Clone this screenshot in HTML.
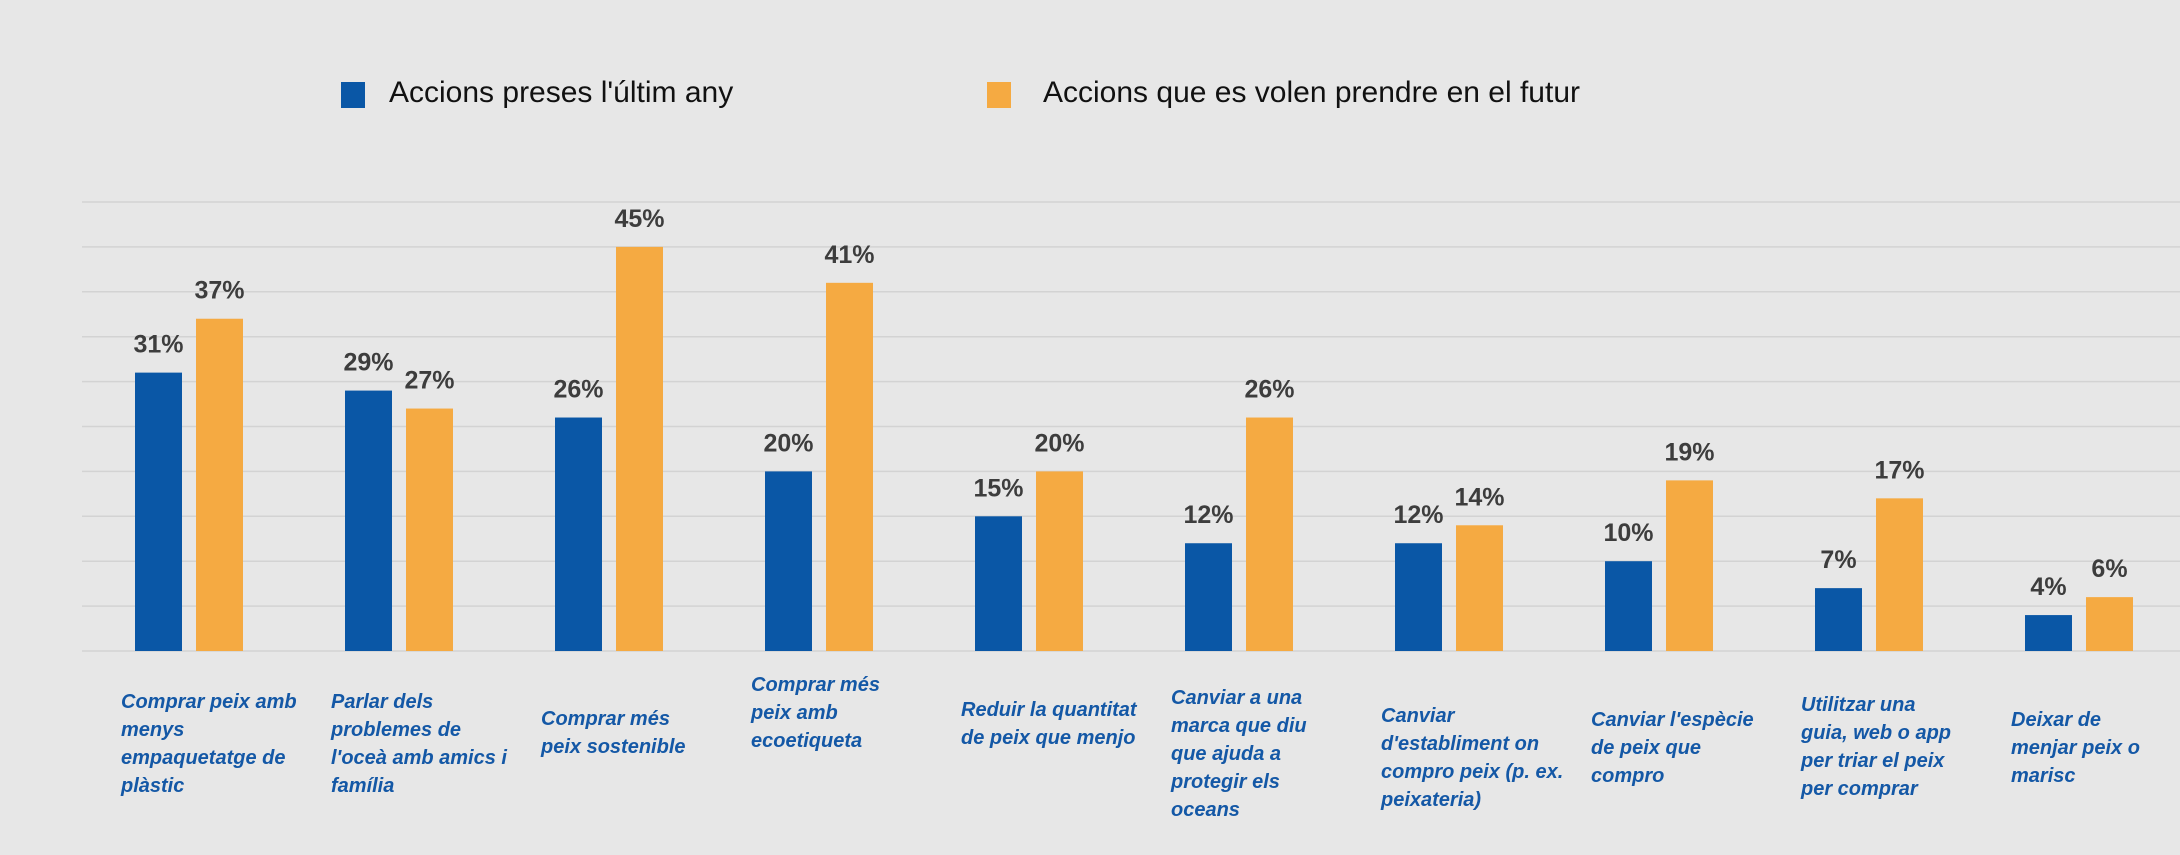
<!DOCTYPE html>
<html><head><meta charset="utf-8"><style>
html,body{margin:0;padding:0;}
body{width:2180px;height:855px;background:#e7e7e7;position:relative;overflow:hidden;font-family:"Liberation Sans",sans-serif;}
.leg{position:absolute;font-size:30px;color:#111;}
.sw{position:absolute;width:24px;height:26px;}
.cat{position:absolute;font-weight:bold;font-style:italic;font-size:20px;line-height:28px;color:#1458a6;white-space:nowrap;}
</style></head><body>
<div class="sw" style="left:341px;top:82px;background:#0a57a6"></div>
<div class="leg" style="left:389px;top:76px">Accions preses l'últim any</div>
<div class="sw" style="left:987px;top:82px;background:#f5aa42"></div>
<div class="leg" style="left:1043px;top:76px">Accions que es volen prendre en el futur</div>
<svg id="chart" width="2180" height="855" style="position:absolute;left:0;top:0"></svg>
<div id="cats"></div>
<script>
const categories=["Comprar peix amb|menys|empaquetatge de|plàstic","Parlar dels|problemes de|l'oceà amb amics i|família","Comprar més|peix  sostenible","Comprar més|peix amb|ecoetiqueta","Reduir la quantitat|de peix que menjo","Canviar a una|marca que diu|que ajuda a|protegir els|oceans","Canviar|d'establiment on|compro peix (p. ex.|peixateria)","Canviar l'espècie|de peix que|compro","Utilitzar una|guia, web o app|per triar el peix|per comprar","Deixar de|menjar peix o|marisc"];
const pastValues=[31,29,26,20,15,12,12,10,7,4];
const futureValues=[37,27,45,41,20,26,14,19,17,6];
const gridTicks=[0,5,10,15,20,25,30,35,40,45,50];
const labelCenters=[702,702,719,685,710,698,716,720,705,720];
const NS="http://www.w3.org/2000/svg";
const svg=document.getElementById('chart');
const y=v=>651-v*8.98;
const xGroup=i=>135+i*210;
function mk(t,a){const e=document.createElementNS(NS,t);for(const k in a)e.setAttribute(k,a[k]);svg.appendChild(e);return e;}
gridTicks.forEach(t=>{
  const l=mk('line',{x1:82,x2:2180,y1:y(t),y2:y(t),stroke:'#d3d3d3','stroke-width':1.5});
  
  
});
function bar(x,v,col,name){
  const r=mk('rect',{x:x,y:y(v),width:47,height:651-y(v),fill:col});
  
  
  const t=mk('text',{x:x+23.5,y:y(v)-20,'text-anchor':'middle','font-size':25,'font-weight':'bold',fill:'#3d3d3d','font-family':'Liberation Sans, sans-serif'});
  t.textContent=v+'%';
  
  
}
const cats=document.getElementById('cats');
categories.forEach((c,i)=>{
  bar(xGroup(i),pastValues[i],'#0a57a6','bar-past');
  bar(xGroup(i)+61,futureValues[i],'#f5aa42','bar-future');
  const lines=c.split('|');
  const d=document.createElement('div');
  d.className='cat';
  d.style.left=(xGroup(i)-14)+'px';
  d.style.top=(labelCenters[i]-14)+'px';
  d.innerHTML=lines.join('<br>');
  
  
  cats.appendChild(d);
});
</script>
</body></html>
